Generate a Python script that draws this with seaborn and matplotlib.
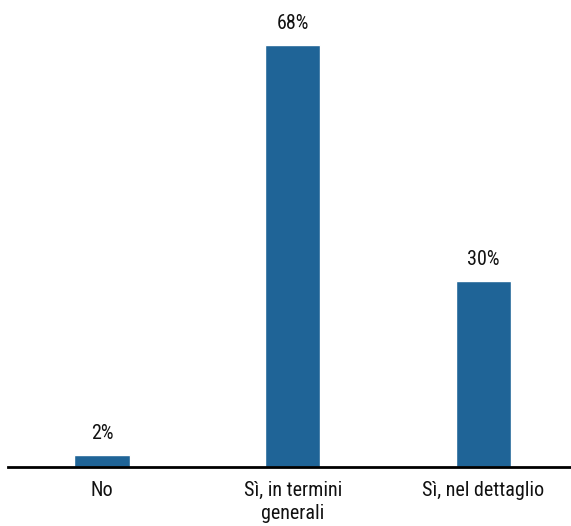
import matplotlib
matplotlib.use("Agg")
import matplotlib.pyplot as plt
import seaborn as sns
import pandas as pd

categories = ["No", "Sì, in termini\ngenerali", "Sì, nel dettaglio"]
values = [2, 68, 30]
value_labels = ["2%", "68%", "30%"]

sns.set_theme(style="white")
plt.rcParams["font.family"] = ["Roboto Condensed", "DejaVu Sans"]

df = pd.DataFrame({"cat": categories, "val": values})

fig = plt.figure(figsize=(5.71, 5.26), dpi=100)
ax = fig.add_axes([8 / 571, 1 - 467 / 526, 1 - 8 / 571, 465 / 526])

sns.barplot(data=df, x="cat", y="val", color="#1f6497", saturation=1,
            width=0.29, ax=ax)

for i, (v, lab) in enumerate(zip(values, value_labels)):
    ax.annotate(lab, (i, v), xytext=(0, 11.5), textcoords="offset points",
                ha="center", va="baseline", fontsize=14.5, color="#111111",
                annotation_clip=False)

ax.set_xlim(-0.493, 2.46)
ax.set_ylim(0, 75)
ax.set_xlabel("")
ax.set_ylabel("")
ax.set_yticks([])
ax.tick_params(axis="x", length=0, pad=10, labelsize=14.5, labelcolor="#111111")
for lbl in ax.get_xticklabels():
    lbl.set_linespacing(1.3)
for s in ["top", "right", "left"]:
    ax.spines[s].set_visible(False)
ax.spines["bottom"].set_color("black")
ax.spines["bottom"].set_linewidth(2)
ax.patch.set_alpha(0)

fig.savefig("out.png", dpi=100)
